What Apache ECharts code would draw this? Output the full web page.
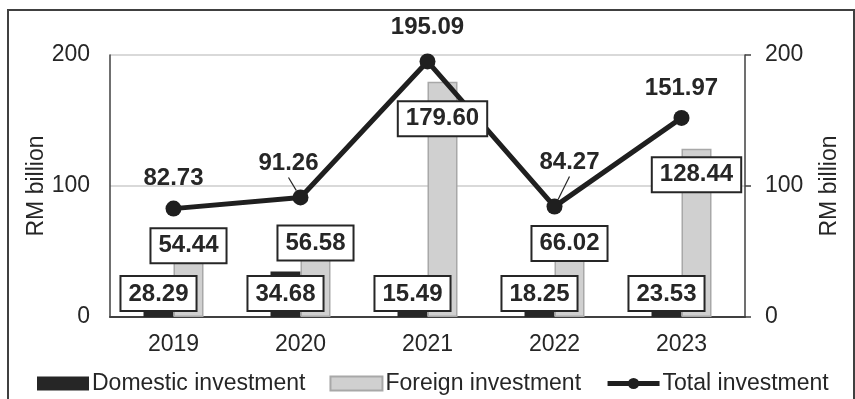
<!DOCTYPE html>
<html>
<head>
<meta charset="utf-8">
<script src="https://cdn.jsdelivr.net/npm/echarts@6/dist/echarts.min.js"></script>
<style>
html,body{margin:0;padding:0;background:#fff;}
#chart{width:855px;height:399px;}
</style>
</head>
<body>
<div id="chart"></div>
<script>
// ---- data ----
var years = ['2019', '2020', '2021', '2022', '2023'];
var domestic = [28.29, 34.68, 15.49, 18.25, 23.53];
var foreign = [54.44, 56.58, 179.60, 66.02, 128.44];
var total = [82.73, 91.26, 195.09, 84.27, 151.97];
var yTicks = { min: 0, max: 200, interval: 100 };

// ---- label layout tweaks (pixels) ----
var foreignLabelShift = [0, 0, 37, 13, 26];
var totalLabelDx = [0, -12, 0, 15, 0];
var totalLabelDy = [0, -4, -4, -14, 0];
var leaderIdx = [1, 3];

var FONT = 'Liberation Sans, Arial, sans-serif';
var DARK = '#262626';

var chart = echarts.init(document.getElementById('chart'), null, { renderer: 'canvas' });

var boxLabel = {
  show: true,
  fontFamily: FONT,
  fontSize: 24,
  fontWeight: 'bold',
  color: DARK,
  backgroundColor: '#ffffff',
  borderColor: DARK,
  borderWidth: 2,
  padding: [4, 7, 2, 7],
  lineHeight: 27,
  formatter: function (p) { return p.value.toFixed(2); }
};

var axisLabelStyle = { fontFamily: FONT, fontSize: 23, color: DARK };

var option = {
  animation: false,
  backgroundColor: '#ffffff',
  textStyle: { fontFamily: FONT },
  grid: { left: 110, right: 110, top: 55, bottom: 82, containLabel: false },
  legend: {
    left: 32,
    top: 367,
    itemWidth: 52,
    itemHeight: 14,
    itemGap: 24,
    textStyle: { fontFamily: FONT, fontSize: 23, color: DARK, padding: [0, 0, 0, -2] },
    data: [
      { name: 'Domestic investment', icon: 'rect' },
      { name: 'Foreign investment', icon: 'rect' },
      { name: 'Total investment', lineStyle: { width: 5, color: '#1f1f1f' }, itemStyle: { color: '#1f1f1f' } }
    ]
  },
  xAxis: [
    {
      type: 'category',
      data: years,
      axisLine: { lineStyle: { color: '#404040', width: 2 } },
      axisTick: { show: false },
      axisLabel: Object.assign({ margin: 16 }, axisLabelStyle)
    },
    {
      type: 'category',
      data: years,
      show: false,
      position: 'bottom'
    }
  ],
  yAxis: [
    {
      type: 'value',
      min: yTicks.min, max: yTicks.max, interval: yTicks.interval,
      name: 'RM billion',
      nameLocation: 'middle',
      nameGap: 62,
      nameMoveOverlap: false,
      nameTextStyle: { fontFamily: FONT, fontSize: 23, color: DARK },
      axisLine: { show: true, lineStyle: { color: '#404040', width: 1.5 } },
      axisTick: { show: false },
      axisLabel: Object.assign({ margin: 20 }, axisLabelStyle),
      splitLine: { show: true, lineStyle: { color: '#d9d9d9', width: 2 } }
    },
    {
      type: 'value',
      position: 'right',
      min: yTicks.min, max: yTicks.max, interval: yTicks.interval,
      name: 'RM billion',
      nameLocation: 'middle',
      nameGap: 73,
      nameMoveOverlap: false,
      nameTextStyle: { fontFamily: FONT, fontSize: 23, color: DARK },
      axisLine: { show: true, lineStyle: { color: '#404040', width: 1.5 } },
      axisTick: { show: true, length: 6, lineStyle: { color: '#404040', width: 1.5 } },
      axisLabel: Object.assign({ margin: 20 }, axisLabelStyle),
      splitLine: { show: false }
    }
  ],
  series: [
    {
      name: 'Domestic investment',
      type: 'bar',
      xAxisIndex: 0,
      data: domestic,
      barWidth: 30,
      barGap: '0%',
      itemStyle: { color: DARK },
      z: 2
    },
    {
      name: 'Foreign investment',
      type: 'bar',
      xAxisIndex: 0,
      data: foreign,
      barWidth: 30,
      barGap: '0%',
      itemStyle: { color: '#d0d0d0', borderColor: '#a8a8a8', borderWidth: 1.5 },
      z: 2
    },
    {
      name: 'Total investment',
      type: 'line',
      data: total.map(function (v, i) {
        return leaderIdx.indexOf(i) >= 0
          ? { value: v, labelLine: { show: true, lineStyle: { color: DARK, width: 1.2 } } }
          : { value: v, labelLine: { show: false } };
      }),
      symbol: 'circle',
      symbolSize: 16,
      lineStyle: { color: '#1f1f1f', width: 5 },
      itemStyle: { color: '#1f1f1f' },
      label: {
        show: true,
        position: 'top',
        distance: 8,
        fontFamily: FONT,
        fontSize: 24,
        fontWeight: 'bold',
        color: DARK,
        lineHeight: 28,
        formatter: function (p) { return p.value.toFixed(2); }
      },
      labelLine: { show: false },
      labelLayout: function (params) {
        return { dx: totalLabelDx[params.dataIndex], dy: totalLabelDy[params.dataIndex] };
      },
      z: 3
    },
    // label-only overlays (drawn above the line)
    {
      name: 'domestic-labels',
      type: 'bar',
      xAxisIndex: 1,
      data: domestic,
      barWidth: 30,
      barGap: '0%',
      silent: true,
      itemStyle: { color: 'rgba(0,0,0,0)' },
      label: Object.assign({}, boxLabel, { position: 'insideBottom', distance: 7 }),
      z: 5
    },
    {
      name: 'foreign-labels',
      type: 'bar',
      xAxisIndex: 1,
      data: foreign.map(function (v, i) {
        return { value: v, label: { position: ['50%', foreignLabelShift[i]] } };
      }),
      barWidth: 30,
      barGap: '0%',
      silent: true,
      itemStyle: { color: 'rgba(0,0,0,0)' },
      label: Object.assign({}, boxLabel, { align: 'center', verticalAlign: 'middle' }),
      z: 5
    }
  ],
  graphic: [
    {
      type: 'rect',
      shape: { x: 8, y: 10, width: 846, height: 420 },
      style: { fill: 'none', stroke: '#404040', lineWidth: 2 },
      silent: true,
      z: 10
    }
  ]
};

chart.setOption(option);
</script>
</body>
</html>
